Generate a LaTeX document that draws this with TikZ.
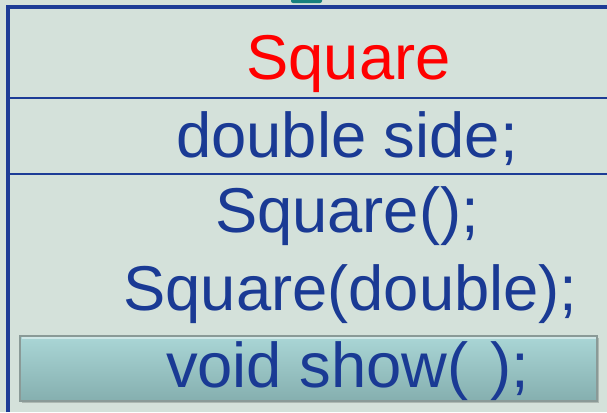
\documentclass[tikz,border=0pt]{standalone}
\usepackage{fontspec}
\setmainfont{Liberation Sans}
\usetikzlibrary{positioning}
\definecolor{umlbg}{HTML}{D4E1DA}
\definecolor{umlblue}{HTML}{1D3C96}
\definecolor{umltext}{HTML}{1A3A94}
\definecolor{umlteal}{HTML}{17817E}
\definecolor{hltop}{HTML}{AAD6D6}
\definecolor{hlbot}{HTML}{85AFAF}
\definecolor{hledge}{HTML}{8A9A97}

\begin{document}
\begin{tikzpicture}[x=0.75pt,y=-0.75pt,
  member/.style={anchor=base,inner sep=0pt,text=umltext,font=\fontsize{47.5}{56}\selectfont},
  rule/.style={draw=umlblue,line width=1.6pt}]
  \useasboundingbox (0,0) rectangle (607,412);
  \fill[umlbg] (0,0) rectangle (607,412);
  \fill[umlteal,rounded corners=1.5pt] (291,-5) rectangle (322,3);
  % class box
  \draw[rule,line width=2.6pt] (8,412) -- (8,7) -- (607,7);
  \draw[rule] (8,98.3) -- (607,98.3);
  \draw[rule] (8,174) -- (607,174);
  % highlighted member
  \fill[black,opacity=0.18] (22,338) rectangle (599,403);
  \shade[top color=hltop,bottom color=hlbot,draw=hledge,line width=0.9pt] (20,336) rectangle (597,401);
  \draw[white,opacity=0.45,line width=0.8pt] (21.5,338) -- (595.5,338);
  \node[anchor=base,inner sep=0pt,text=red,font=\fontsize{47.5}{56}\selectfont] (clsname) at (348.5,79) {Square};
  \node[member] (attrside) at (347,157) {double side;};
  \node[member] (ctordef) at (347,232) {Square();};
  \node[member] (ctorarg) at (350.5,310) {Square(double);};
  \node[member] (mshow) at (347.5,387) {void show( \hspace{3pt});};
\end{tikzpicture}
\end{document}
